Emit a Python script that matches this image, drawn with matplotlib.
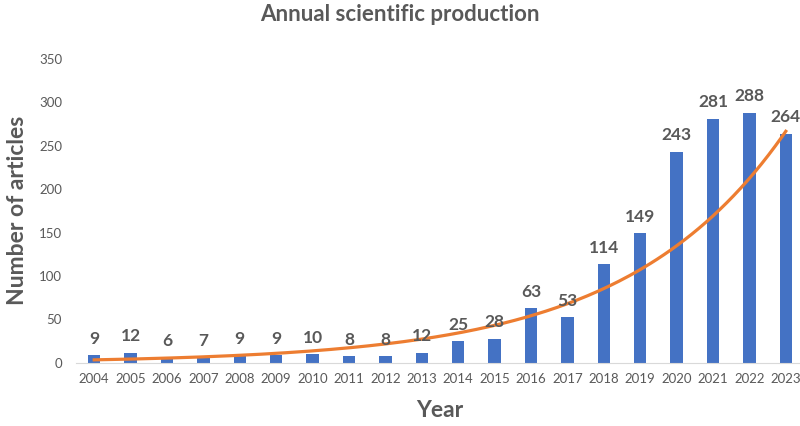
import numpy as np
import matplotlib as mpl
mpl.use("Agg")
import matplotlib.pyplot as plt

years = [2004, 2005, 2006, 2007, 2008, 2009, 2010, 2011, 2012, 2013,
         2014, 2015, 2016, 2017, 2018, 2019, 2020, 2021, 2022, 2023]
articles = [9, 12, 6, 7, 9, 9, 10, 8, 8, 12,
            25, 28, 63, 53, 114, 149, 243, 281, 288, 264]

gray = '#595959'
plt.rcParams['font.family'] = ['Lato', 'DejaVu Sans']

fig = plt.figure(figsize=(8, 4.26), dpi=100)
ax = fig.add_axes([0.095, 0.148, 0.91, 0.714])

x = np.arange(len(years))
ax.bar(x, articles, width=0.34, color='#4472C4', zorder=2)

# exponential trendline (least squares on log values, like Excel)
b, a = np.polyfit(x + 1, np.log(articles), 1)
xs = np.linspace(0, len(years) - 1, 200)
ax.plot(xs, np.exp(a + b * (xs + 1)), color='#ED7D31', lw=2.3, zorder=3)

for xi, v in zip(x, articles):
    ax.annotate(str(v), (xi, v), xytext=(0, 6), textcoords='offset points',
                ha='center', va='bottom', fontsize=12.5, fontweight='bold',
                color=gray)

ax.set_xlim(-0.5, len(years) - 0.5)
ax.set_ylim(0, 350)
ax.set_yticks(range(0, 351, 50))
ax.set_xticks(x)
ax.set_xticklabels(years)
ax.tick_params(axis='both', length=0, labelsize=9.5, labelcolor=gray)
ax.tick_params(axis='x', pad=7)
ax.tick_params(axis='y', pad=10)
for s in ['top', 'right', 'left']:
    ax.spines[s].set_visible(False)
ax.spines['bottom'].set_color('#D9D9D9')

ax.set_xlabel('Year', fontsize=16.5, fontweight='bold', color=gray, labelpad=11)
ax.set_ylabel('Number of articles', fontsize=16.5, fontweight='bold', color=gray,
              labelpad=8)
fig.text(0.5, 0.966, 'Annual scientific production', ha='center', va='center',
         fontsize=16, fontweight='bold', color=gray)

fig.savefig('out.png', dpi=100)
